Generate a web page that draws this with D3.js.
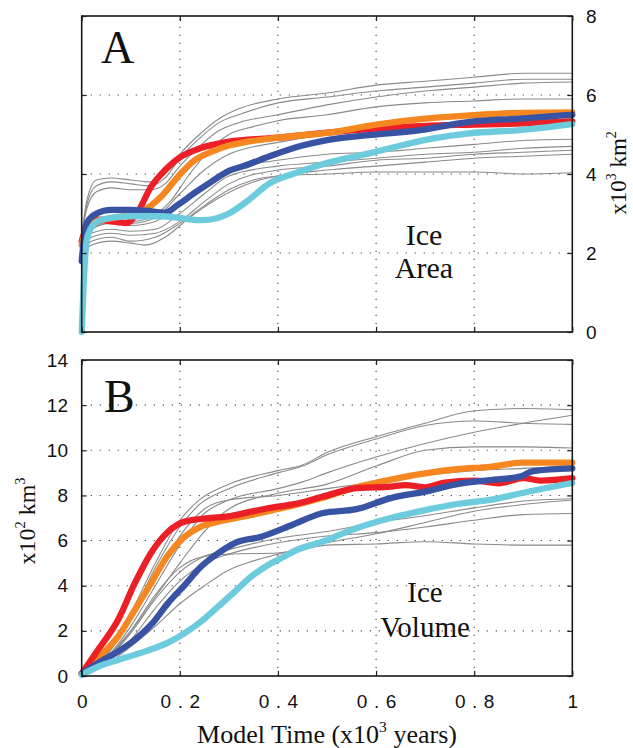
<!DOCTYPE html>
<html><head><meta charset="utf-8">
<script src="https://cdn.jsdelivr.net/npm/d3@7"></script>
<style>body{margin:0;background:#fff}</style>
</head><body>
<svg id="c" width="633" height="748"></svg>
<script>
// ---------- tick values / labels ----------
const xTicks = [0, 0.2, 0.4, 0.6, 0.8, 1];
const xTickLabels = ["0", "0.2", "0.4", "0.6", "0.8", "1"];
const areaTicks = [0, 2, 4, 6, 8];
const volTicks = [0, 2, 4, 6, 8, 10, 12, 14];

// ---------- Panel A: ice area (x10^3 km^2) ----------
const areaRed = [[0,2.3],[0.01,2.65],[0.03,2.85],[0.06,2.8],[0.09,2.76],[0.115,3.05],[0.14,3.65],[0.17,4.1],[0.2,4.42],[0.23,4.6],[0.3,4.82],[0.4,4.92],[0.5,5.05],[0.6,5.15],[0.7,5.22],[0.8,5.25],[0.9,5.28],[1,5.33]];
const areaOrange = [[0,2.2],[0.01,2.6],[0.03,2.8],[0.06,2.88],[0.094,2.96],[0.128,3.09],[0.162,3.43],[0.196,3.93],[0.23,4.35],[0.264,4.56],[0.3,4.72],[0.33,4.8],[0.4,4.92],[0.5,5.04],[0.6,5.25],[0.7,5.4],[0.8,5.49],[0.9,5.55],[1,5.56]];
const areaBlue = [[0,1.8],[0.01,2.75],[0.03,3.0],[0.06,3.09],[0.1,3.09],[0.13,3.07],[0.17,3.02],[0.196,3.22],[0.23,3.52],[0.264,3.8],[0.3,4.08],[0.33,4.2],[0.39,4.48],[0.45,4.72],[0.5,4.86],[0.59,4.99],[0.69,5.11],[0.79,5.32],[0.9,5.41],[1,5.5]];
const areaCyan = [[0,0],[0.004,1.2],[0.01,2.3],[0.02,2.65],[0.04,2.84],[0.094,2.93],[0.16,2.93],[0.21,2.87],[0.245,2.83],[0.275,2.88],[0.3,3.0],[0.336,3.3],[0.384,3.77],[0.43,4.0],[0.486,4.23],[0.588,4.53],[0.72,4.91],[0.79,5.03],[0.893,5.11],[1,5.26]];

const areaGray1 = [[0,2.4],[0.01,3.3],[0.03,3.85],[0.06,3.9],[0.1,3.85],[0.14,3.8],[0.17,4.0],[0.2,4.5],[0.24,5.0],[0.28,5.4],[0.32,5.65],[0.4,5.9],[0.5,6.05],[0.6,6.25],[0.7,6.35],[0.8,6.45],[0.9,6.55],[1,6.55]];
const areaGray2 = [[0,2.4],[0.01,3.2],[0.03,3.7],[0.06,3.8],[0.1,3.75],[0.14,3.7],[0.17,3.9],[0.2,4.4],[0.24,4.9],[0.28,5.3],[0.32,5.5],[0.4,5.8],[0.5,5.95],[0.6,6.1],[0.7,6.2],[0.8,6.3],[0.9,6.4],[1,6.4]];
const areaGray3 = [[0,2.4],[0.01,3.1],[0.03,3.55],[0.06,3.65],[0.1,3.6],[0.14,3.6],[0.17,3.75],[0.2,4.2],[0.24,4.7],[0.28,5.1],[0.32,5.3],[0.4,5.5],[0.5,5.75],[0.6,5.95],[0.7,6.1],[0.8,6.2],[0.9,6.3],[1,6.33]];
const areaGray4 = [[0,2.3],[0.02,2.7],[0.06,2.85],[0.1,2.8],[0.14,2.9],[0.18,3.3],[0.22,4.0],[0.26,4.6],[0.3,5.0],[0.35,5.2],[0.4,5.35],[0.5,5.5],[0.6,5.7],[0.7,5.8],[0.8,5.85],[0.9,5.9],[1,5.9]];
const areaGray5 = [[0,2.2],[0.02,2.6],[0.06,2.75],[0.1,2.7],[0.15,2.8],[0.2,3.2],[0.25,3.7],[0.3,4.1],[0.4,4.35],[0.5,4.5],[0.6,4.55],[0.7,4.65],[0.8,4.75],[0.9,4.85],[1,4.88]];
const areaGray6 = [[0,2.1],[0.02,2.5],[0.06,2.6],[0.1,2.55],[0.15,2.6],[0.2,3.0],[0.25,3.5],[0.3,3.95],[0.4,4.2],[0.5,4.3],[0.6,4.4],[0.7,4.5],[0.8,4.55],[0.9,4.65],[1,4.7]];
const areaGray7 = [[0,2.1],[0.02,2.4],[0.06,2.5],[0.1,2.45],[0.15,2.5],[0.2,2.8],[0.25,3.3],[0.3,3.75],[0.4,4.1],[0.5,4.2],[0.6,4.35],[0.7,4.4],[0.8,4.5],[0.9,4.55],[1,4.6]];
const areaGray8 = [[0,2.0],[0.02,2.3],[0.06,2.4],[0.1,2.3],[0.15,2.4],[0.2,2.75],[0.25,3.2],[0.3,3.6],[0.35,3.85],[0.4,3.95],[0.5,4.0],[0.6,4.05],[0.7,4.05],[0.8,4.05],[0.9,4.0],[1,4.03]];
const areaGray9 = [[0,2.0],[0.02,2.2],[0.06,2.3],[0.1,2.25],[0.13,2.2],[0.17,2.4],[0.22,2.9],[0.28,3.4],[0.35,3.8],[0.4,3.95],[0.5,4.1],[0.6,4.2],[0.7,4.3],[0.8,4.4],[0.9,4.45],[1,4.5]];
const areaGray10 = [[0,2.2],[0.02,2.6],[0.06,2.8],[0.1,2.75],[0.15,2.9],[0.2,3.5],[0.25,4.1],[0.3,4.5],[0.4,4.8],[0.5,5.0],[0.6,5.1],[0.7,5.2],[0.8,5.3],[0.9,5.35],[1,5.4]];

// ---------- Panel B: ice volume (x10^2 km^3) ----------
const volRed = [[0,0.1],[0.033,1.15],[0.074,2.48],[0.108,4.1],[0.141,5.44],[0.176,6.39],[0.21,6.84],[0.264,7.0],[0.298,7.07],[0.345,7.28],[0.4,7.5],[0.43,7.6],[0.49,7.94],[0.56,8.32],[0.63,8.39],[0.66,8.46],[0.7,8.36],[0.74,8.57],[0.8,8.66],[0.85,8.54],[0.9,8.77],[0.935,8.66],[1,8.77]];
const volOrange = [[0,0.1],[0.033,0.79],[0.074,1.74],[0.108,2.92],[0.141,4.1],[0.176,5.36],[0.21,6.17],[0.243,6.62],[0.278,6.84],[0.332,7.07],[0.4,7.4],[0.43,7.55],[0.5,7.95],[0.56,8.36],[0.61,8.61],[0.7,8.98],[0.765,9.16],[0.833,9.27],[0.9,9.45],[1,9.45]];
const volBlue = [[0,0.1],[0.033,0.57],[0.074,1.08],[0.108,1.6],[0.141,2.26],[0.176,3.23],[0.21,4.03],[0.243,4.84],[0.278,5.44],[0.312,5.89],[0.366,6.17],[0.43,6.7],[0.49,7.21],[0.56,7.39],[0.63,7.88],[0.7,8.17],[0.765,8.5],[0.833,8.68],[0.893,8.83],[0.92,9.08],[1,9.2]];
const volCyan = [[0,0.05],[0.033,0.41],[0.074,0.71],[0.128,1.08],[0.176,1.48],[0.21,1.9],[0.243,2.41],[0.278,3.07],[0.312,3.74],[0.345,4.4],[0.38,4.92],[0.413,5.29],[0.43,5.5],[0.49,5.95],[0.56,6.55],[0.63,7.0],[0.7,7.35],[0.765,7.62],[0.833,7.8],[0.9,8.12],[1,8.55]];

const volGray1 = [[0,0],[0.05,1.0],[0.1,2.8],[0.15,5.0],[0.2,6.9],[0.24,7.8],[0.3,8.5],[0.4,9.1],[0.45,9.35],[0.5,9.9],[0.6,10.6],[0.7,11.2],[0.8,11.75],[0.9,11.85],[1,11.8]];
const volGray2 = [[0,0],[0.05,0.9],[0.1,2.6],[0.15,4.8],[0.2,6.6],[0.24,7.6],[0.3,8.3],[0.4,9.0],[0.45,9.3],[0.5,9.8],[0.6,10.5],[0.7,11.1],[0.8,11.3],[0.9,11.2],[1,11.15]];
const volGray3 = [[0,0],[0.05,0.8],[0.1,2.2],[0.15,4.0],[0.2,5.8],[0.25,7.2],[0.3,7.8],[0.4,8.3],[0.45,8.6],[0.5,9.0],[0.6,9.7],[0.7,10.3],[0.8,10.8],[0.9,11.2],[1,11.55]];
const volGray4 = [[0,0],[0.05,0.8],[0.1,2.0],[0.15,3.5],[0.2,5.0],[0.25,6.4],[0.3,7.4],[0.4,8.1],[0.5,8.5],[0.6,9.3],[0.7,10.0],[0.8,10.15],[0.9,10.15],[1,10.1]];
const volGray5 = [[0,0],[0.05,0.7],[0.1,1.9],[0.15,3.4],[0.2,4.6],[0.25,5.3],[0.3,5.6],[0.4,6.1],[0.5,6.4],[0.6,6.8],[0.7,7.1],[0.8,7.45],[0.9,7.75],[1,7.85]];
const volGray6 = [[0,0],[0.05,0.6],[0.1,1.6],[0.15,3.0],[0.2,4.2],[0.25,5.0],[0.3,5.4],[0.4,5.9],[0.5,6.2],[0.6,6.35],[0.7,6.6],[0.8,6.9],[0.9,7.15],[1,7.2]];
const volGray7 = [[0,0],[0.05,0.7],[0.1,2.0],[0.15,3.6],[0.2,4.8],[0.25,5.3],[0.3,5.4],[0.4,5.45],[0.5,5.8],[0.6,5.85],[0.7,5.95],[0.8,5.85],[0.9,5.8],[1,5.8]];
const volGray8 = [[0,0],[0.05,0.5],[0.1,1.3],[0.15,2.2],[0.2,3.2],[0.25,4.0],[0.3,4.7],[0.35,5.1],[0.4,5.4],[0.5,5.9],[0.6,6.3],[0.7,6.8],[0.8,7.3],[0.9,7.6],[1,7.8]];
const volGray9 = [[0,0],[0.05,0.9],[0.1,2.5],[0.15,4.4],[0.2,6.2],[0.25,7.4],[0.3,7.8],[0.4,8.0],[0.5,8.3],[0.6,8.6],[0.7,8.9],[0.8,9.1],[0.9,9.2],[1,9.3]];

const colors = {red:"#ec1f26", orange:"#f6861f", blue:"#3953a4", cyan:"#6ccbdc", gray:"#8a8a8a"};

// ---------- layout ----------
const svg = d3.select("#c");
const L = 81.7, R = 572.3;
const x = d3.scaleLinear().domain([0,1]).range([L, R]);
const yA = d3.scaleLinear().domain([0,8]).range([332, 16]);
const yB = d3.scaleLinear().domain([0,14]).range([676, 360]);

const sans = "'Liberation Sans', Arial, sans-serif";
const serif = "'Liberation Serif', 'Times New Roman', serif";

function panel(y, yTicks, grays, colored, yAxisSide, showX) {
  const g = svg.append("g");
  const [y0, y1] = y.range();
  // grid
  g.append("g").selectAll("line").data(xTicks.slice(1,-1)).join("line")
    .attr("x1", d=>x(d)).attr("x2", d=>x(d)).attr("y1", y0).attr("y2", y1)
    .attr("stroke", "#444").attr("stroke-width", 1.1).attr("stroke-dasharray", "1.2,6.8");
  g.append("g").selectAll("line").data(yTicks.slice(1,-1)).join("line")
    .attr("y1", d=>y(d)).attr("y2", d=>y(d)).attr("x1", L).attr("x2", R)
    .attr("stroke", "#444").attr("stroke-width", 1.1).attr("stroke-dasharray", "1.2,7.8");

  const line = d3.line().x(d=>x(d[0])).y(d=>y(d[1])).curve(d3.curveMonotoneX);
  g.append("g").selectAll("path").data(grays).join("path")
    .attr("d", line).attr("fill","none").attr("stroke", colors.gray).attr("stroke-width", 1.1);
  g.append("g").selectAll("path").data(colored).join("path")
    .attr("d", d=>line(d.values)).attr("fill","none").attr("stroke", d=>colors[d.c])
    .attr("stroke-width", 6.3).attr("stroke-linecap","round").attr("stroke-linejoin","round");

  // axes with inward ticks
  const ax = (gen, tx) => {
    const a = g.append("g").attr("transform", tx).call(gen);
    a.select(".domain").remove();
    a.selectAll(".tick line").attr("stroke", "#222").attr("stroke-width", 1.2);
    return a;
  };
  ax(d3.axisTop(x).tickValues(xTicks).tickSize(-5).tickFormat(""), `translate(0,${y1})`);
  const bx = ax(d3.axisBottom(x).tickValues(xTicks).tickSize(-5).tickPadding(18.5)
      .tickFormat((d,i)=> showX ? xTickLabels[i] : ""), `translate(0,${y0})`);
  bx.selectAll("text").attr("font-family", sans).attr("font-size", 19).attr("fill","#111")
    .attr("letter-spacing", "6.5px").attr("dx", "3.25");
  const la = ax(d3.axisLeft(y).tickValues(yTicks).tickSize(-5).tickPadding(13.7)
      .tickFormat(yAxisSide === "left" ? d3.format("d") : ""), `translate(${L},0)`);
  const ra = ax(d3.axisRight(y).tickValues(yTicks).tickSize(-5).tickPadding(13.7)
      .tickFormat(yAxisSide === "right" ? d3.format("d") : ""), `translate(${R},0)`);
  [la, ra].forEach(a => a.selectAll("text").attr("font-family", sans).attr("font-size", 19).attr("fill","#111"));

  // frame
  g.append("rect").attr("x", L).attr("y", y1).attr("width", R-L).attr("height", y0-y1)
    .attr("fill","none").attr("stroke","#1a1a1a").attr("stroke-width", 1.6);
  return g;
}

panel(yA, areaTicks,
  [areaGray1,areaGray2,areaGray3,areaGray4,areaGray5,areaGray6,areaGray7,areaGray8,areaGray9,areaGray10],
  [{c:"red",values:areaRed},{c:"orange",values:areaOrange},{c:"blue",values:areaBlue},{c:"cyan",values:areaCyan}],
  "right", false);
panel(yB, volTicks,
  [volGray1,volGray2,volGray3,volGray4,volGray5,volGray6,volGray7,volGray8,volGray9],
  [{c:"orange",values:volOrange},{c:"red",values:volRed},{c:"blue",values:volBlue},{c:"cyan",values:volCyan}],
  "left", true);

// ---------- text ----------
function txt(x0, y0, s, size, anchor) {
  return svg.append("text").attr("x", x0).attr("y", y0).attr("font-family", serif)
    .attr("font-size", size).attr("text-anchor", anchor || "start").attr("fill","#111").text(s);
}
txt(101, 63, "A", 46);
txt(104, 412, "B", 46);
txt(424, 245, "Ice", 30, "middle");
txt(424, 278, "Area", 30, "middle");
txt(425, 602, "Ice", 29, "middle");
txt(425, 637, "Volume", 29, "middle");

function supLabel(tx, parts, size) {
  const t = svg.append("text").attr("transform", tx).attr("font-family", serif)
    .attr("font-size", size).attr("text-anchor","middle").attr("fill","#111");
  parts.forEach(p => {
    const sp = t.append("tspan").text(p[0]);
    if (p[1] === "sup") sp.attr("font-size", size*0.6).attr("dy", -size*0.42);
    else if (p[1] === "down") sp.attr("dy", size*0.42);
  });
  return t;
}
supLabel("translate(626,173) rotate(-90)", [["x10"],["3","sup"],[" km","down"],["2","sup"]], 23);
supLabel("translate(35,521) rotate(-90)", [["x10"],["2","sup"],[" km","down"],["3","sup"]], 24);
supLabel("translate(327,743)", [["Model Time (x10"],["3","sup"],[" years)","down"]], 26);
</script>
</body></html>
